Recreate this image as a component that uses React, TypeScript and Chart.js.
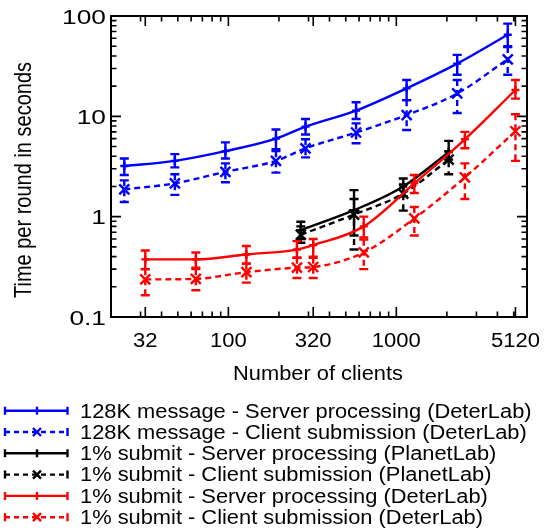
import React, { useEffect, useRef } from "react";
import { Chart, registerables } from "chart.js";

Chart.register(...registerables);

// ---- data ----
const X_128K = [24, 48, 96, 192, 288, 576, 1152, 2304, 4608];
const SRV_128K = [3.2, 3.6, 4.5, 6.0, 7.9, 11.4, 19.0, 33.5, 65];
const SRV_128K_HI = [3.8, 4.2, 5.5, 7.4, 9.4, 13.8, 23, 41, 84];
const SRV_128K_LO = [2.6, 3.1, 3.8, 4.7, 6.6, 9.4, 14.5, 26, 50];
const CLI_128K = [1.87, 2.15, 2.8, 3.6, 4.8, 6.9, 10.3, 16.9, 37];
const CLI_128K_HI = [2.3, 2.65, 3.4, 4.5, 5.9, 8.5, 14.5, 23, 49];
const CLI_128K_LO = [1.4, 1.65, 2.2, 2.75, 3.9, 5.4, 7.3, 10.8, 26];

const X_PL = [270, 560, 1100, 2050];
const SRV_PL = [0.735, 1.16, 2.0, 4.4];
const SRV_PL_HI = [0.89, 1.84, 2.4, 5.7];
const SRV_PL_LO = [0.6, 0.65, 1.6, 3.7];
const CLI_PL = [0.66, 1.05, 1.7, 3.7];
const CLI_PL_HI = [0.8, 1.5, 2.1, 4.5];
const CLI_PL_LO = [0.55, 0.47, 1.15, 2.65];

const X_DL = [32, 64, 128, 256, 320, 640, 1280, 2560, 5120];
const SRV_DL = [0.375, 0.375, 0.42, 0.47, 0.52, 0.8, 2.15, 5.9, 18.3];
const SRV_DL_HI = [0.46, 0.44, 0.51, 0.57, 0.6, 1.0, 2.6, 7.0, 23];
const SRV_DL_LO = [0.3, 0.31, 0.34, 0.39, 0.4, 0.62, 1.72, 4.8, 15];
const CLI_DL = [0.237, 0.24, 0.28, 0.31, 0.315, 0.44, 0.96, 2.46, 7.1];
const CLI_DL_HI = [0.3, 0.3, 0.34, 0.39, 0.39, 0.59, 1.25, 3.4, 10.5];
const CLI_DL_LO = [0.165, 0.185, 0.22, 0.245, 0.245, 0.3, 0.65, 1.5, 3.6];

const X_TICKS = [32, 100, 320, 1000, 5120];
const X_TICK_LABELS = ["32", "100", "320", "1000", "5120"];
const Y_TICKS = [0.1, 1, 10, 100];
const Y_TICK_LABELS = ["0.1", "1", "10", "100"];

const LABELS = [
  "128K message - Server processing (DeterLab)",
  "128K message - Client submission (DeterLab)",
  "1% submit - Server processing (PlanetLab)",
  "1% submit - Client submission (PlanetLab)",
  "1% submit - Server processing (DeterLab)",
  "1% submit - Client submission (DeterLab)",
];
const COLORS = ["#0000ff", "#0000ff", "#000000", "#000000", "#ff0000", "#ff0000"];
const DASHED = [false, true, false, true, false, true];

const FONT = "'Liberation Sans', Arial, Helvetica, sans-serif";
const DASH = [6, 4];

function drawText(
  ctx: CanvasRenderingContext2D,
  s: string,
  x: number,
  y: number,
  size: number,
  sx: number,
  align: CanvasTextAlign,
  rotate = 0
) {
  ctx.save();
  ctx.translate(x, y);
  ctx.scale(sx, 1);
  if (rotate) ctx.rotate(rotate);
  ctx.font = `${size}px ${FONT}`;
  ctx.fillStyle = "#000";
  ctx.textAlign = align;
  ctx.textBaseline = "alphabetic";
  ctx.fillText(s, 0, 0);
  ctx.restore();
}

function drawMarker(ctx: CanvasRenderingContext2D, x: number, y: number, dashed: boolean, r: number) {
  ctx.beginPath();
  if (dashed) {
    ctx.moveTo(x - r, y - r);
    ctx.lineTo(x + r, y + r);
    ctx.moveTo(x - r, y + r);
    ctx.lineTo(x + r, y - r);
  } else {
    ctx.moveTo(x, y - r);
    ctx.lineTo(x, y + r);
    ctx.moveTo(x - r, y);
    ctx.lineTo(x + r, y);
  }
  ctx.stroke();
}

const errorBarPlugin = {
  id: "errorBars",
  afterDatasetDraw(chart: any, args: any) {
    const ds = chart.data.datasets[args.index];
    if (!ds.errHi) return;
    const ctx: CanvasRenderingContext2D = chart.ctx;
    const ys = chart.scales.y;
    ctx.save();
    ctx.strokeStyle = ds.borderColor;
    ctx.lineWidth = 2.4;
    ctx.lineCap = "butt";
    args.meta.data.forEach((pt: any, i: number) => {
      const x = pt.x;
      const yh = ys.getPixelForValue(ds.errHi[i]);
      const yl = ys.getPixelForValue(ds.errLo[i]);
      ctx.setLineDash(ds.isDashed ? DASH : []);
      ctx.beginPath();
      ctx.moveTo(x, yh);
      ctx.lineTo(x, yl);
      ctx.stroke();
      ctx.setLineDash([]);
      ctx.beginPath();
      ctx.moveTo(x - 4.5, yh);
      ctx.lineTo(x + 4.5, yh);
      ctx.moveTo(x - 4.5, yl);
      ctx.lineTo(x + 4.5, yl);
      ctx.stroke();
      drawMarker(ctx, x, pt.y, ds.isDashed, ds.isDashed ? 5 : 4);
    });
    ctx.restore();
  },
};

const framePlugin = {
  id: "frame",
  beforeDatasetsDraw(chart: any) {
    const ctx: CanvasRenderingContext2D = chart.ctx;
    const { left, right, top, bottom } = chart.chartArea;
    const xs = chart.scales.x;
    const ys = chart.scales.y;
    ctx.save();
    ctx.strokeStyle = "#000";
    ctx.lineWidth = 1.6;
    const xMinor: number[] = [];
    for (const d of [10, 100, 1000]) for (let k = 2; k <= 9; k++) xMinor.push(k * d);
    const yMinor: number[] = [];
    for (const d of [0.1, 1, 10]) for (let k = 2; k <= 9; k++) yMinor.push(k * d);
    ctx.beginPath();
    const xt = (v: number, len: number) => {
      if (v < xs.min || v > xs.max) return;
      const px = xs.getPixelForValue(v);
      ctx.moveTo(px, bottom);
      ctx.lineTo(px, bottom - len);
      ctx.moveTo(px, top);
      ctx.lineTo(px, top + len);
    };
    const yt = (v: number, len: number) => {
      const py = ys.getPixelForValue(v);
      ctx.moveTo(left, py);
      ctx.lineTo(left + len, py);
      ctx.moveTo(right, py);
      ctx.lineTo(right - len, py);
    };
    xMinor.forEach((v) => xt(v, 5.5));
    X_TICKS.forEach((v) => xt(v, 10));
    yMinor.forEach((v) => yt(v, 5.5));
    Y_TICKS.forEach((v) => yt(v, 10));
    ctx.stroke();
    ctx.lineWidth = 2;
    ctx.strokeRect(left, top, right - left, bottom - top);
    ctx.restore();

    X_TICKS.forEach((v, i) => drawText(ctx, X_TICK_LABELS[i], xs.getPixelForValue(v), 347, 19.5, 1.13, "center"));
    Y_TICKS.forEach((v, i) => drawText(ctx, Y_TICK_LABELS[i], 106, ys.getPixelForValue(v) + 7.5, 19.5, 1.35, "right"));
    drawText(ctx, "Number of clients", 318, 380, 21, 1.04, "center");
    drawText(ctx, "Time per round in seconds", 31, 180, 20, 1.2, "center", -Math.PI / 2);
  },
  afterDraw(chart: any) {
    const ctx: CanvasRenderingContext2D = chart.ctx;
    ctx.save();
    LABELS.forEach((lab, i) => {
      const y = 410.7 + i * 21.3;
      ctx.strokeStyle = COLORS[i];
      ctx.lineWidth = 2.4;
      ctx.setLineDash(DASHED[i] ? [5, 4] : []);
      ctx.beginPath();
      ctx.moveTo(5, y);
      ctx.lineTo(67.5, y);
      ctx.stroke();
      ctx.setLineDash([]);
      ctx.beginPath();
      ctx.moveTo(5, y - 4);
      ctx.lineTo(5, y + 4);
      ctx.moveTo(67.5, y - 4);
      ctx.lineTo(67.5, y + 4);
      ctx.stroke();
      if (DASHED[i]) drawMarker(ctx, 37, y, true, 4);
      else {
        ctx.beginPath();
        ctx.moveTo(37, y - 4);
        ctx.lineTo(37, y + 4);
        ctx.stroke();
      }
      drawText(ctx, lab, 80, y + 6.8, 19.5, 1.12, "left");
    });
    ctx.restore();
  },
};

function series(i: number, xs: number[], ys: number[], hi: number[], lo: number[]) {
  return {
    label: LABELS[i],
    data: xs.map((x, k) => ({ x, y: ys[k] })),
    errHi: hi,
    errLo: lo,
    isDashed: DASHED[i],
    borderColor: COLORS[i],
    backgroundColor: COLORS[i],
    borderWidth: 2.4,
    borderDash: DASHED[i] ? DASH : [],
    pointRadius: 0,
    pointHoverRadius: 0,
    cubicInterpolationMode: "monotone" as const,
    fill: false,
    order: 6 - i,
  };
}

export default function App() {
  const ref = useRef<HTMLCanvasElement | null>(null);
  useEffect(() => {
    if (!ref.current) return;
    const chart = new Chart(ref.current, {
      type: "line",
      data: {
        datasets: [
          series(0, X_128K, SRV_128K, SRV_128K_HI, SRV_128K_LO),
          series(1, X_128K, CLI_128K, CLI_128K_HI, CLI_128K_LO),
          series(2, X_PL, SRV_PL, SRV_PL_HI, SRV_PL_LO),
          series(3, X_PL, CLI_PL, CLI_PL_HI, CLI_PL_LO),
          series(4, X_DL, SRV_DL, SRV_DL_HI, SRV_DL_LO),
          series(5, X_DL, CLI_DL, CLI_DL_HI, CLI_DL_LO),
        ] as any,
      },
      options: {
        responsive: false,
        animation: false,
        devicePixelRatio: 1,
        layout: { padding: { left: 111, right: 17, top: 16, bottom: 214 } },
        plugins: { legend: { display: false }, tooltip: { enabled: false } },
        scales: {
          x: { type: "logarithmic", min: 20, max: 6000, display: false },
          y: { type: "logarithmic", min: 0.1, max: 100, display: false },
        },
      },
      plugins: [framePlugin, errorBarPlugin],
    });
    return () => chart.destroy();
  }, []);
  return (
    <div style={{ position: "absolute", left: 0, top: 0, width: 544, height: 531, background: "#fff" }}>
      <canvas ref={ref} width={544} height={531} />
    </div>
  );
}
